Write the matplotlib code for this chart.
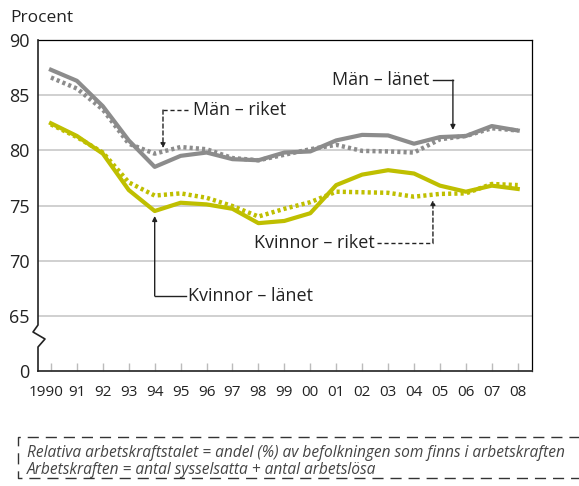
import numpy as np
import matplotlib
matplotlib.use("Agg")
import matplotlib.pyplot as plt
from matplotlib.lines import Line2D
from matplotlib.transforms import ScaledTranslation

plt.rcParams["font.family"] = ["Open Sans", "DejaVu Sans"]

years = ["1990", "91", "92", "93", "94", "95", "96", "97", "98", "99",
         "00", "01", "02", "03", "04", "05", "06", "07", "08"]
man_lanet = [87.3, 86.3, 84.0, 80.9, 78.5, 79.5, 79.8, 79.2, 79.1, 79.8,
             79.9, 80.9, 81.4, 81.35, 80.6, 81.2, 81.3, 82.2, 81.8]
man_riket = [86.6, 85.6, 83.7, 80.6, 79.7, 80.3, 80.1, 79.3, 79.1, 79.6,
             80.1, 80.5, 79.95, 79.9, 79.8, 81.0, 81.3, 82.0, 81.8]
kv_lanet = [82.45, 81.3, 79.7, 76.4, 74.5, 75.25, 75.1, 74.7, 73.4, 73.6,
            74.3, 76.85, 77.8, 78.2, 77.9, 76.8, 76.25, 76.8, 76.5]
kv_riket = [82.35, 81.2, 79.8, 77.1, 75.9, 76.1, 75.7, 74.95, 74.0, 74.7,
            75.3, 76.25, 76.2, 76.15, 75.8, 76.05, 76.1, 76.95, 76.85]
ytick_vals = [60, 65, 70, 75, 80, 85, 90]
ytick_labels = ["0", "65", "70", "75", "80", "85", "90"]
footer = ["Relativa arbetskraftstalet = andel (%) av befolkningen som finns i arbetskraften",
          "Arbetskraften = antal sysselsatta + antal arbetslösa"]

GREY = "#8c8c8c"
OLIVE = "#bfbf00"
W, H = 579, 486

fig = plt.figure(figsize=(W / 100, H / 100), dpi=100)
ax = fig.add_axes([38 / W, 1 - 371 / H, (532 - 38) / W, (371 - 40) / H])

x = np.arange(len(years))
ax.plot(x, man_riket, color=GREY, lw=3.2, ls=(0, (0.7, 0.7)), zorder=3)
ax.plot(x, man_lanet, color=GREY, lw=3.0, zorder=4)
ax.plot(x, kv_riket, color=OLIVE, lw=3.2, ls=(0, (0.7, 0.7)), zorder=3)
ax.plot(x, kv_lanet, color=OLIVE, lw=3.0, zorder=4)

ax.set_xlim(-0.5, 18.55)
ax.set_ylim(60, 90)
ax.set_yticks(ytick_vals)
ax.set_yticklabels(ytick_labels, fontsize=13, color="#222222")
ax.set_xticks(x)
ax.set_xticklabels(years, fontsize=11, color="#222222")
ax.tick_params(axis="y", length=0, pad=6)
ax.tick_params(axis="x", direction="in", length=6, width=1, color="#bbbbbb", pad=10)
# nudge "1990" left so it clears "91"
first = ax.get_xticklabels()[0]
first.set_transform(first.get_transform() + ScaledTranslation(-0.05, 0, fig.dpi_scale_trans))
for v in [65, 70, 75, 80, 85]:
    ax.axhline(v, color="#c8c8c8", lw=1.2, zorder=1)
for s in ["top", "right"]:
    ax.spines[s].set_linewidth(0.9)
ax.spines["bottom"].set_linewidth(1.3)
ax.spines["bottom"].set_color("#333333")
ax.spines["left"].set_visible(False)

# left spine with axis break
bx = [38, 38, 33, 45, 38, 38]
by = [40, 325, 332, 339, 347, 371]
fig.add_artist(Line2D([b / W for b in bx], [1 - b / H for b in by],
                      transform=fig.transFigure, color="#222222", lw=1.2))

fig.text(10 / W, 1 - 18 / H, "Procent", fontsize=12.5, va="center", ha="left", color="#222222")

# annotations
tfs = 13
ax.text(5.47, 83.65, "Män – riket", fontsize=tfs, va="center", ha="left", color="#222222")
ax.plot([5.3, 4.32], [83.65, 83.65], color="#222222", lw=1, ls=(0, (3, 2)))
ax.annotate("", xy=(4.32, 80.2), xytext=(4.32, 83.65),
            arrowprops=dict(arrowstyle="-|>", color="#222222", lw=1, ls=(0, (3, 2)),
                            mutation_scale=7, shrinkA=0, shrinkB=0))

ax.text(14.61, 86.37, "Män – länet", fontsize=tfs, va="center", ha="right", color="#222222")
ax.plot([14.72, 15.5], [86.37, 86.37], color="#222222", lw=1)
ax.annotate("", xy=(15.5, 81.85), xytext=(15.5, 86.37),
            arrowprops=dict(arrowstyle="-|>", color="#222222", lw=1,
                            mutation_scale=7, shrinkA=0, shrinkB=0))

ax.text(12.49, 71.6, "Kvinnor – riket", fontsize=tfs, va="center", ha="right", color="#222222")
ax.plot([12.56, 14.73], [71.6, 71.6], color="#222222", lw=1, ls=(0, (3, 2)))
ax.annotate("", xy=(14.73, 75.5), xytext=(14.73, 71.6),
            arrowprops=dict(arrowstyle="-|>", color="#222222", lw=1, ls=(0, (3, 2)),
                            mutation_scale=7, shrinkA=0, shrinkB=0))

ax.text(5.28, 66.8, "Kvinnor – länet", fontsize=tfs, va="center", ha="left", color="#222222")
ax.plot([5.2, 4.0], [66.8, 66.8], color="#222222", lw=1)
ax.annotate("", xy=(4.0, 74.05), xytext=(4.0, 66.8),
            arrowprops=dict(arrowstyle="-|>", color="#222222", lw=1,
                            mutation_scale=7, shrinkA=0, shrinkB=0))

# footer box
dash = (0, (8, 5))
fx = [W + 5, 18, 18, W + 5]
fy = [437, 437, 478, 478]
fig.add_artist(Line2D([v / W for v in fx], [1 - v / H for v in fy],
                      transform=fig.transFigure, color="#333333", lw=1, ls=dash))
fig.text(27 / W, 1 - 453 / H, footer[0], fontsize=11.2, style="italic", va="center", color="#444444")
fig.text(27 / W, 1 - 470 / H, footer[1], fontsize=11.2, style="italic", va="center", color="#444444")

fig.savefig("out.png", dpi=100)
